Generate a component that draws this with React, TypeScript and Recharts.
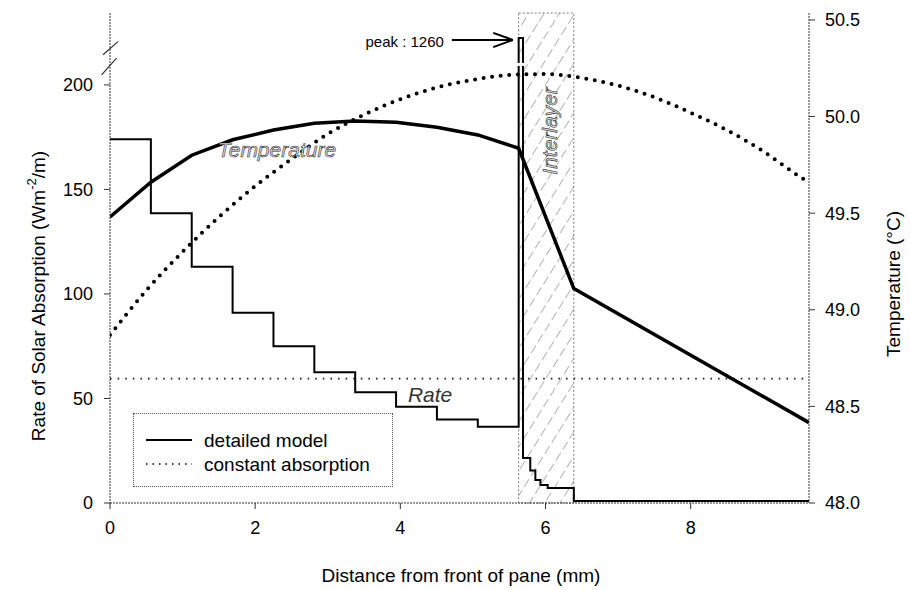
import {
  ComposedChart, Line, XAxis, YAxis, ReferenceArea, ReferenceLine, ReferenceDot, Legend, Label,
} from 'recharts';

const FONT = '"Liberation Sans", Arial, Helvetica, sans-serif';

// layer boundaries through pane, interlayer and second pane (mm)
const layerEdges = [0, 0.563, 1.126, 1.689, 2.252, 2.815, 3.378, 3.941, 4.504, 5.067, 5.63, 5.69, 5.79, 5.86, 5.93, 6.03, 6.39, 9.63];
// absorption rate in each layer (W m-2 / m), last value closes the step
const layerRates = [174, 138.6, 113, 91, 75, 62.5, 53, 46, 40, 36.5, 1260, 21.5, 15.5, 11, 8.6, 7.2, 1, 1];
const constantRate = 59.5;

// temperature, detailed model (°C)
const tempX = [0, 0.563, 1.126, 1.689, 2.252, 2.815, 3.378, 3.941, 4.504, 5.067, 5.63, 6.39, 9.63];
const tempDetailed = [49.48, 49.66, 49.8, 49.88, 49.93, 49.965, 49.977, 49.97, 49.945, 49.905, 49.836, 49.11, 48.416];

// temperature, constant absorption (°C)
const constX = [0, 0.5, 1, 1.5, 2, 2.5, 3, 3.5, 4, 4.5, 5, 5.5, 6, 6.5, 7, 7.5, 8, 8.5, 9, 9.5, 9.63];
const constTemp = [48.87, 49.1, 49.3, 49.48, 49.64, 49.78, 49.91, 50.01, 50.09, 50.15, 50.19, 50.215, 50.22, 50.2, 50.16, 50.1, 50.02, 49.93, 49.82, 49.69, 49.66];

const interlayer = [5.63, 6.39];
const xTicks = [0, 2, 4, 6, 8];
const rateTicks = [0, 50, 100, 150, 200];
const tempTicks = [48, 48.5, 49, 49.5, 50, 50.5];

const X_MAX = 9.63;
const RATE_MAX = 234.4;
const TEMP_DOMAIN: [number, number] = [48, 50.536];

// broken left axis: everything above the break is squeezed
const BREAK = 215;
const toAxis = (v: number) => (v <= BREAK ? v : BREAK + (v - BREAK) * (7.5 / 1045));

const rateData = layerEdges.map((x, i) => ({ x, rate: layerRates[i] }));
const constRateData = [{ x: 0, rate: constantRate }, { x: X_MAX, rate: constantRate }];
const tempData = tempX.map((x, i) => ({ x, temp: tempDetailed[i] }));
const constTempData = constX.map((x, i) => ({ x, temp: constTemp[i] }));

const tickStyle = { fontSize: 18, fill: '#000', fontFamily: FONT };

function LegendBox() {
  return (
    <div style={{ width: 260, height: 74, border: '1px dotted #555', boxSizing: 'border-box', background: '#fff' }}>
      <svg width={258} height={72} style={{ display: 'block' }}>
        <line x1={12} x2={58} y1={26} y2={26} stroke="#000" strokeWidth={2} />
        <line x1={12} x2={58} y1={50} y2={50} stroke="#000" strokeWidth={1.5} strokeDasharray="1.5 5" />
        <text x={70} y={26} dominantBaseline="central" fontSize={19} fontFamily={FONT}>detailed model</text>
        <text x={70} y={50} dominantBaseline="central" fontSize={19} fontFamily={FONT}>constant absorption</text>
      </svg>
    </div>
  );
}

const noteText = (text: string, opts: any) => (p: any) => (
  <text
    x={p.cx}
    y={p.cy}
    textAnchor={opts.anchor || 'middle'}
    dominantBaseline="central"
    fontFamily={FONT}
    fontSize={opts.size}
    fontStyle={opts.italic ? 'italic' : 'normal'}
    fill={opts.fill}
    stroke={opts.stroke || 'none'}
    strokeWidth={opts.strokeWidth || 0}
    transform={opts.rotate ? `rotate(${opts.rotate} ${p.cx} ${p.cy})` : undefined}
  >
    {text}
  </text>
);

export default function App() {
  return (
    <div style={{ position: 'absolute', left: 0, top: 0, background: '#fff' }}>
      <ComposedChart width={910} height={590} margin={{ top: 13, right: 0, bottom: 0, left: 0 }}>
        <defs>
          <pattern id="hatch" width="13" height="13" patternUnits="userSpaceOnUse" patternTransform="rotate(32)">
            <line x1="0" y1="0" x2="0" y2="13" stroke="#666" strokeWidth="1" strokeDasharray="5 4" />
          </pattern>
        </defs>
        <XAxis
          dataKey="x"
          type="number"
          domain={[0, X_MAX]}
          ticks={xTicks}
          allowDataOverflow
          height={87}
          tick={tickStyle}
          tickSize={6}
          tickMargin={12}
          axisLine={{ stroke: '#333', strokeDasharray: '2 1' }}
          tickLine={{ stroke: '#333' }}
        >
          <Label
            content={() => (
              <text x={461} y={575} textAnchor="middle" dominantBaseline="central" fontSize={19} fontFamily={FONT}>
                Distance from front of pane (mm)
              </text>
            )}
          />
        </XAxis>
        <YAxis
          yAxisId="left"
          type="number"
          domain={[0, RATE_MAX]}
          ticks={rateTicks}
          allowDataOverflow
          width={110}
          tick={tickStyle}
          tickSize={6}
          tickMargin={11}
          axisLine={{ stroke: '#333', strokeDasharray: '2 1' }}
          tickLine={{ stroke: '#333' }}
        >
          <Label
            content={() => (
              <text transform="translate(38,296) rotate(-90)" textAnchor="middle" dominantBaseline="central" fontSize={19} fontFamily={FONT}>
                Rate of Solar Absorption (Wm<tspan dy={-7} fontSize={13}>-2</tspan><tspan dy={7}>/m)</tspan>
              </text>
            )}
          />
        </YAxis>
        <YAxis
          yAxisId="right"
          orientation="right"
          type="number"
          domain={TEMP_DOMAIN}
          ticks={tempTicks}
          allowDataOverflow
          width={101}
          tick={tickStyle}
          tickFormatter={(v: number) => v.toFixed(1)}
          tickSize={6}
          tickMargin={10}
          axisLine={{ stroke: '#333', strokeDasharray: '2 1' }}
          tickLine={{ stroke: '#333' }}
        >
          <Label
            content={() => (
              <text transform="translate(893,284) rotate(-90)" textAnchor="middle" dominantBaseline="central" fontSize={19} fontFamily={FONT}>
                Temperature (°C)
              </text>
            )}
          />
        </YAxis>

        <ReferenceArea
          yAxisId="left"
          x1={interlayer[0]}
          x2={interlayer[1]}
          y1={0}
          y2={RATE_MAX}
          fill="url(#hatch)"
          fillOpacity={1}
          stroke="#777"
          strokeDasharray="2 2"
        />

        <Line
          yAxisId="left"
          data={constRateData}
          dataKey="rate"
          type="linear"
          stroke="#222"
          strokeWidth={1.6}
          strokeDasharray="1.6 6"
          dot={false}
          activeDot={false}
          isAnimationActive={false}
        />
        <Line
          yAxisId="left"
          data={rateData}
          dataKey={(d: any) => toAxis(d.rate)}
          type="stepAfter"
          stroke="#000"
          strokeWidth={2}
          dot={false}
          activeDot={false}
          isAnimationActive={false}
        />
        <Line
          yAxisId="right"
          data={constTempData}
          dataKey="temp"
          type="monotone"
          stroke="#000"
          strokeWidth={4}
          strokeLinecap="round"
          strokeDasharray="0 8.6"
          dot={false}
          activeDot={false}
          isAnimationActive={false}
        />
        <Line
          yAxisId="right"
          data={tempData}
          dataKey="temp"
          type="linear"
          stroke="#000"
          strokeWidth={3.5}
          dot={false}
          activeDot={false}
          isAnimationActive={false}
        />

        {/* break in the peak and on the left axis */}
        <ReferenceLine yAxisId="left" segment={[{ x: 5.6, y: 209.8 }, { x: 5.72, y: 209.8 }]} stroke="#fff" strokeWidth={3} ifOverflow="visible" />
        <ReferenceLine yAxisId="left" segment={[{ x: -0.116, y: 204.8 }, { x: 0.09, y: 212.8 }]} stroke="#333" strokeWidth={1.2} ifOverflow="visible" />
        <ReferenceLine yAxisId="left" segment={[{ x: -0.096, y: 214.4 }, { x: 0.11, y: 220.7 }]} stroke="#333" strokeWidth={1.2} ifOverflow="visible" />

        {/* peak arrow */}
        <ReferenceLine yAxisId="left" segment={[{ x: 4.71, y: 221.5 }, { x: 5.55, y: 221.5 }]} stroke="#000" strokeWidth={2} ifOverflow="visible" />
        <ReferenceLine yAxisId="left" segment={[{ x: 5.28, y: 224.9 }, { x: 5.55, y: 221.5 }]} stroke="#000" strokeWidth={2} ifOverflow="visible" />
        <ReferenceLine yAxisId="left" segment={[{ x: 5.28, y: 218.1 }, { x: 5.55, y: 221.5 }]} stroke="#000" strokeWidth={2} ifOverflow="visible" />

        <ReferenceDot yAxisId="left" x={4.6} y={220.6} r={0} ifOverflow="visible"
          shape={noteText('peak : 1260', { size: 15, fill: '#000', anchor: 'end' })} />
        <ReferenceDot yAxisId="left" x={2.3} y={168.9} r={0} ifOverflow="visible"
          shape={noteText('Temperature', { size: 21, italic: true, fill: '#ddd', stroke: '#333', strokeWidth: 0.6 })} />
        <ReferenceDot yAxisId="left" x={4.41} y={51.7} r={0} ifOverflow="visible"
          shape={noteText('Rate', { size: 21, italic: true, fill: '#333' })} />
        <ReferenceDot yAxisId="left" x={6.05} y={178} r={0} ifOverflow="visible"
          shape={noteText('Interlayer', { size: 21, italic: true, fill: '#ddd', stroke: '#333', strokeWidth: 0.6, rotate: -90 })} />

        <Legend
          layout="horizontal"
          verticalAlign="middle"
          align="center"
          content={() => <LegendBox />}
          wrapperStyle={{ left: 133, top: 413, width: 260, height: 74 }}
        />
      </ComposedChart>
    </div>
  );
}
